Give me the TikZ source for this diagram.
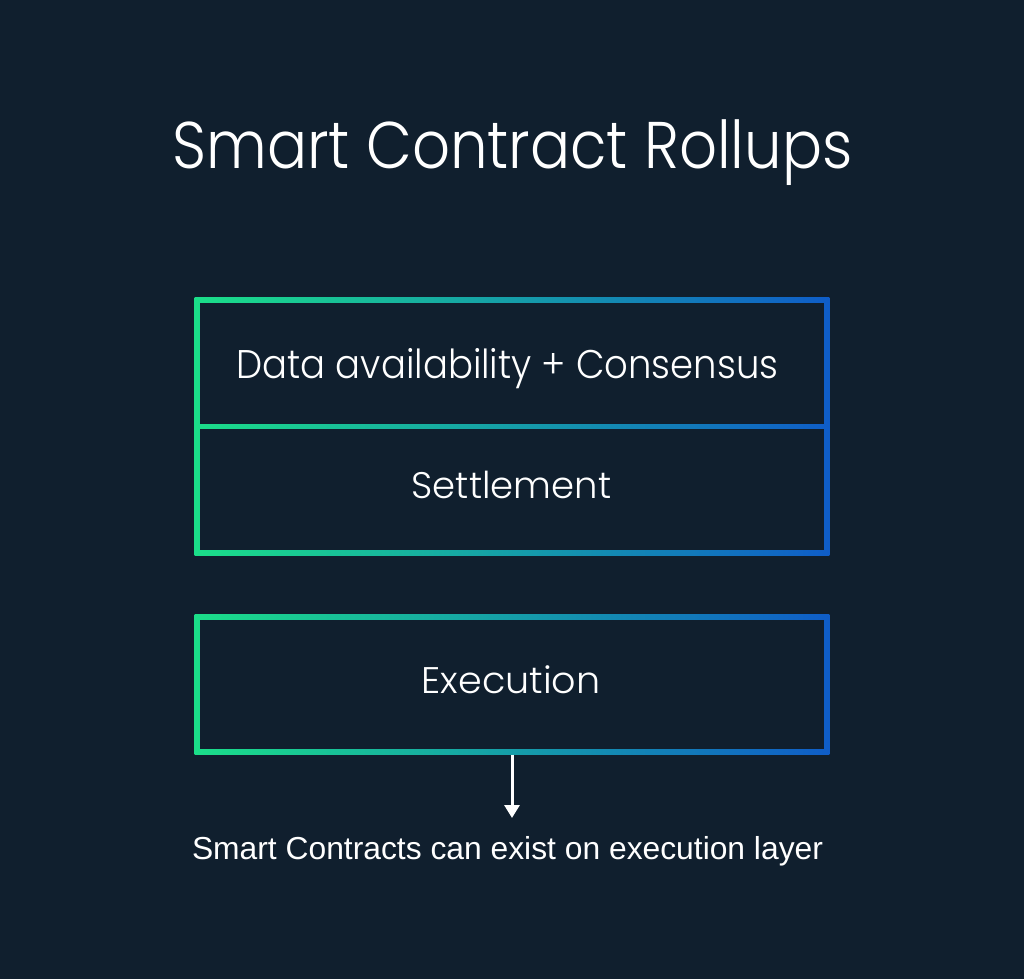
\documentclass[tikz,border=0pt]{standalone}
\usepackage{fontspec}
\newfontfamily\pop{Poppins Light}
\newfontfamily\lib{Liberation Sans}
\usetikzlibrary{arrows.meta}
\definecolor{bg}{RGB}{16,31,46}
\definecolor{gleft}{RGB}{27,222,137}
\definecolor{gright}{RGB}{15,93,200}
\tikzset{
  frame/.style={shade, left color=gleft, right color=gright, inner sep=0pt, outer sep=0pt},
  hole/.style={fill=bg, inner sep=0pt, outer sep=0pt},
  label/.style={text=white, inner sep=0pt, anchor=base},
  arr/.style={white, line width=3pt, -{Triangle[width=15pt,length=13pt]}}
}
\begin{document}
\begin{tikzpicture}[x=1pt,y=-1pt]
\useasboundingbox (0,0) rectangle (1024,979);
\fill[bg] (0,0) rectangle (1024,979);
% top box with divider
\node[frame, minimum width=634.6pt, minimum height=258.3pt] (top) at (512,426.15) {};
\node[hole, minimum width=624pt, minimum height=121.7pt] (dabox) at (512,363.35) {};
\node[hole, minimum width=624pt, minimum height=121pt] (setbox) at (512,489.5) {};
% execution box
\node[frame, minimum width=634.6pt, minimum height=140.2pt] (exec) at (512,684.6) {};
\node[hole, minimum width=624pt, minimum height=129.6pt] (exechole) at (512,684.6) {};
% texts
\node[label, font=\pop\fontsize{66}{70}\selectfont] (title) at (512.5,168) {\scalebox{0.9}[1]{Smart Contract Rollups}};
\node[label, font=\pop\fontsize{40}{44}\selectfont] (da) at (507.5,378) {\scalebox{0.925}[1]{Data availability + Consensus}};
\node[label, font=\pop\fontsize{37}{40}\selectfont] (set) at (511.5,498) {Settlement};
\node[label, font=\pop\fontsize{37}{40}\selectfont] (ex) at (511,693) {\scalebox{1.03}[1]{Execution}};
\node[label, font=\lib\fontsize{31.8}{35}\selectfont] (cap) at (507.5,859) {Smart Contracts can exist on execution layer};
\coordinate (tip) at (512,818);
\draw[arr] (exec.south) -- (tip);
\end{tikzpicture}
\end{document}
